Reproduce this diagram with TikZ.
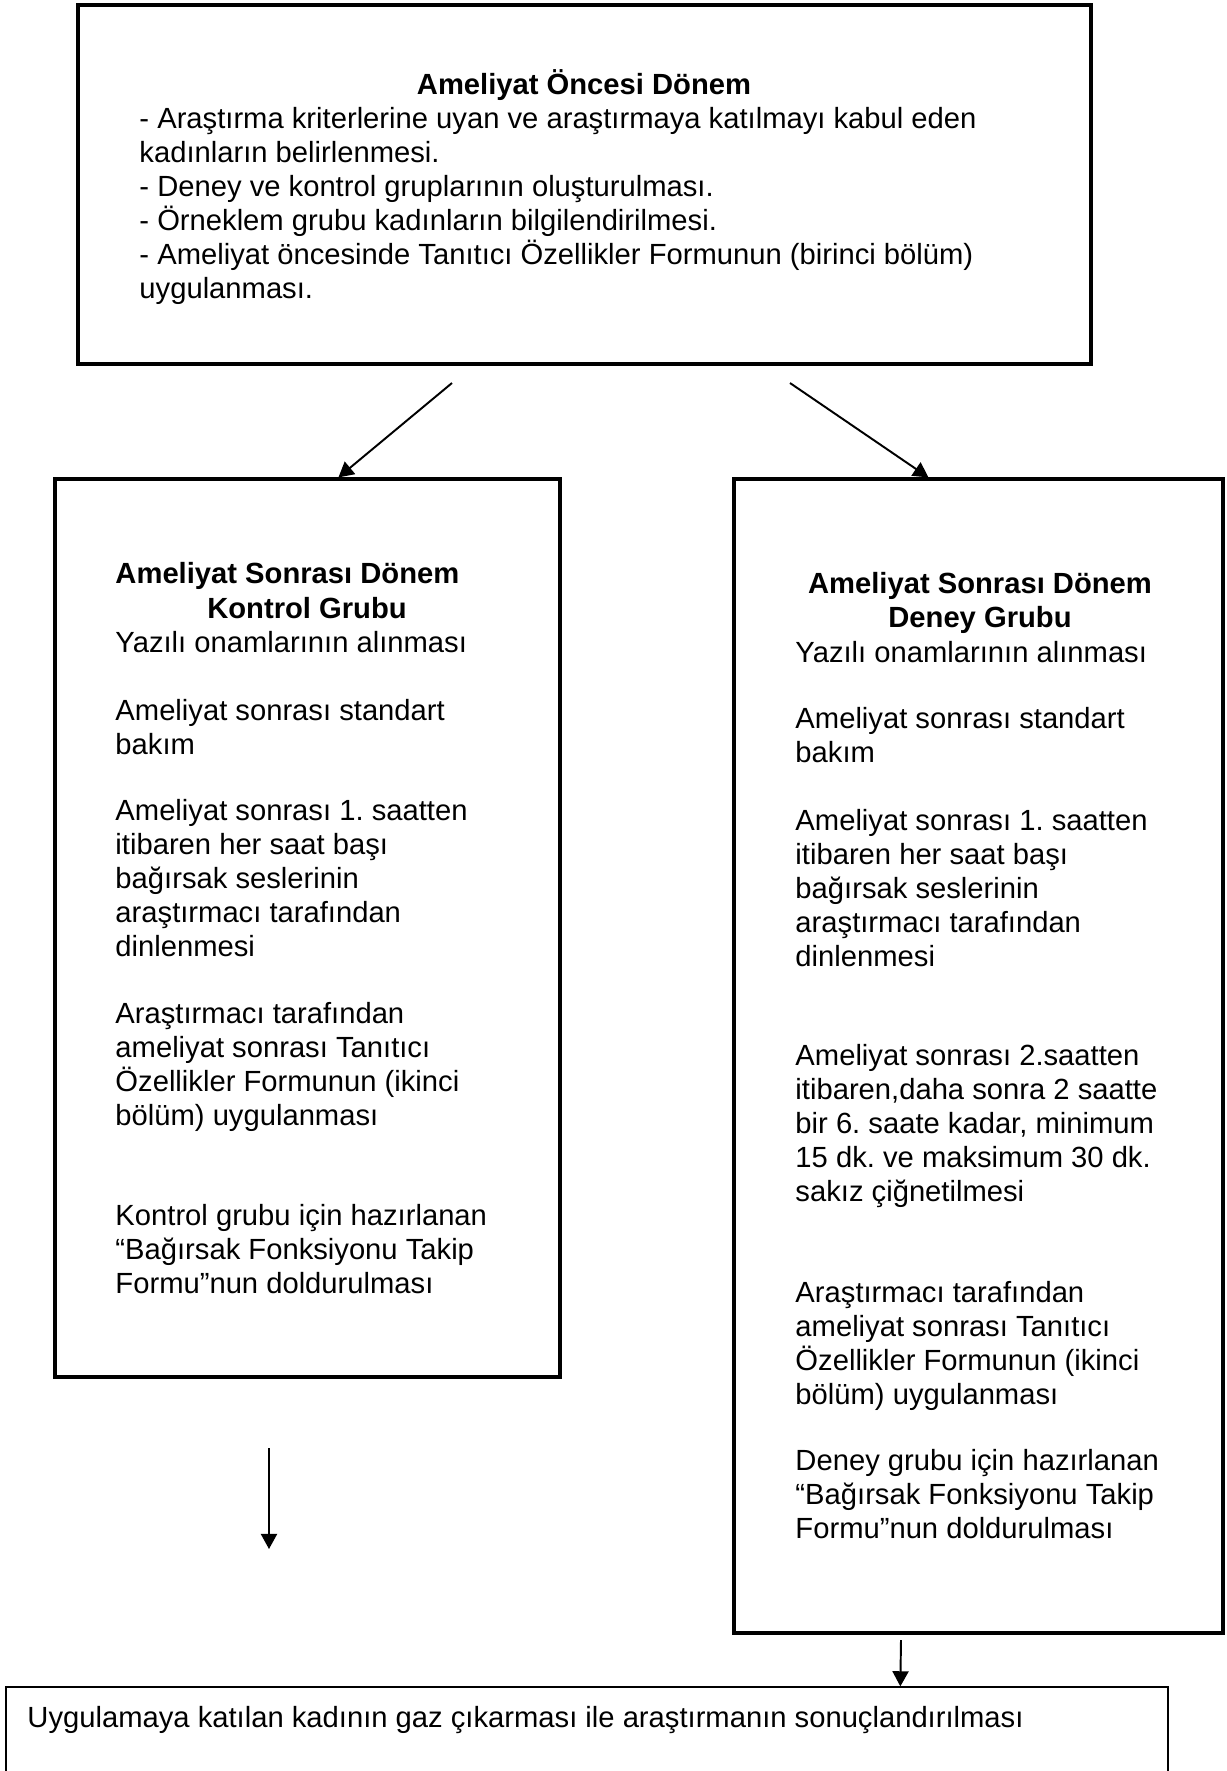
\documentclass[tikz,border=0pt]{standalone}
\usepackage{fontspec}
\setmainfont{Liberation Sans}
\usepackage{tikz}
\usetikzlibrary{arrows.meta,calc,fit}
\frenchspacing
\newcommand{\bodyfont}{\fontsize{12}{14}\selectfont}
\newcommand{\parstrut}{\rule{0pt}{12pt}}
\tikzset{
  box/.style={draw=black, line width=1.3pt, inner sep=0pt},
  thinbox/.style={draw=black, line width=0.55pt, inner sep=0pt},
  arrow/.style={-{Triangle[length=6.2pt,width=6.6pt]}, line width=0.8pt, draw=black},
  para/.style={anchor=north west, inner sep=0pt, align=left, font=\bodyfont},
  txt/.style={anchor=base west, inner sep=0pt, font=\bodyfont},
  head/.style={inner sep=0pt, font=\bodyfont\bfseries}
}

\begin{document}
\begin{tikzpicture}[x=0.1445mm,y=-0.1445mm]
    \useasboundingbox (0,0) rectangle (1226,1771);

    % Boxes
    \node[box, fit={(78,5) (1091,364)}] (pre) {};
    \node[box, fit={(55,479) (560,1377)}] (ctrl) {};
    \node[box, fit={(734,479) (1223,1633)}] (deney) {};
    \node[thinbox, fit={(6,1687) (1168,1800)}] (sonuc) {};

    % Pre-op box
    \node[head, anchor=base] (preT) at (584,94) {Ameliyat Öncesi Dönem};
    \node[para] (preB) at (139,99)
      {\parstrut- Araştırma kriterlerine uyan ve araştırmaya katılmayı kabul eden\\
       kadınların belirlenmesi.\\
       - Deney ve kontrol gruplarının oluşturulması.\\
       - Örneklem grubu kadınların bilgilendirilmesi.\\
       - Ameliyat öncesinde Tanıtıcı Özellikler Formunun (birinci bölüm)\\
       uygulanması.};

    % Control group box
    \node[head, anchor=base west] (ctrlT1) at (115,583) {Ameliyat Sonrası Dönem};
    \node[head, anchor=base] (ctrlT2) at (307,618) {Kontrol Grubu};
    \node[txt] (ctrl1) at (115,652) {Yazılı onamlarının alınması};
    \node[para] (ctrl2) at (115,691) {\parstrut Ameliyat sonrası standart\\bakım};
    \node[para] (ctrl3) at (115,791)
      {\parstrut Ameliyat sonrası 1. saatten\\itibaren her saat başı\\bağırsak seslerinin\\araştırmacı tarafından\\dinlenmesi};
    \node[para] (ctrl4) at (115,994)
      {\parstrut Araştırmacı tarafından\\ameliyat sonrası Tanıtıcı\\Özellikler Formunun (ikinci\\bölüm) uygulanması};
    \node[para] (ctrl5) at (115,1196)
      {\parstrut Kontrol grubu için hazırlanan\\“Bağırsak Fonksiyonu Takip\\Formu”nun doldurulması};

    % Experiment group box
    \node[head, anchor=north, align=center] (deneyT) at (980,564)
      {\parstrut Ameliyat Sonrası Dönem\\Deney Grubu};
    \node[txt] (deney1) at (795,662) {Yazılı onamlarının alınması};
    \node[para] (deney2) at (795,699) {\parstrut Ameliyat sonrası standart\\bakım};
    \node[para] (deney3) at (795,801)
      {\parstrut Ameliyat sonrası 1. saatten\\itibaren her saat başı\\bağırsak seslerinin\\araştırmacı tarafından\\dinlenmesi};
    \node[para] (deney4) at (795,1036)
      {\parstrut Ameliyat sonrası 2.saatten\\itibaren,daha sonra 2 saatte\\bir 6. saate kadar, minimum\\15 dk. ve maksimum 30 dk.\\sakız çiğnetilmesi};
    \node[para] (deney5) at (795,1273)
      {\parstrut Araştırmacı tarafından\\ameliyat sonrası Tanıtıcı\\Özellikler Formunun (ikinci\\bölüm) uygulanması};
    \node[para] (deney6) at (795,1441)
      {\parstrut Deney grubu için hazırlanan\\“Bağırsak Fonksiyonu Takip\\Formu”nun doldurulması};

    % Closing box
    \node[txt] (sonucT) at (27,1727)
      {Uygulamaya katılan kadının gaz çıkarması ile araştırmanın sonuçlandırılması};

    % Arrows
    \coordinate (a1) at (452,383);
    \coordinate (a2) at (790,383);
    \coordinate (a3) at (269,1448);
    \coordinate (a3e) at (269,1549);
    \coordinate (a4) at (901,1640);
    \draw[arrow] (a1) -- ($(ctrl.north west)+(285,0)$);
    \draw[arrow] (a2) -- ($(deney.north west)+(196,0)$);
    \draw[arrow] (a3) -- (a3e);
    \draw[arrow] (a4) -- ($(sonuc.north west)+(895,0)$);
\end{tikzpicture}
\end{document}
